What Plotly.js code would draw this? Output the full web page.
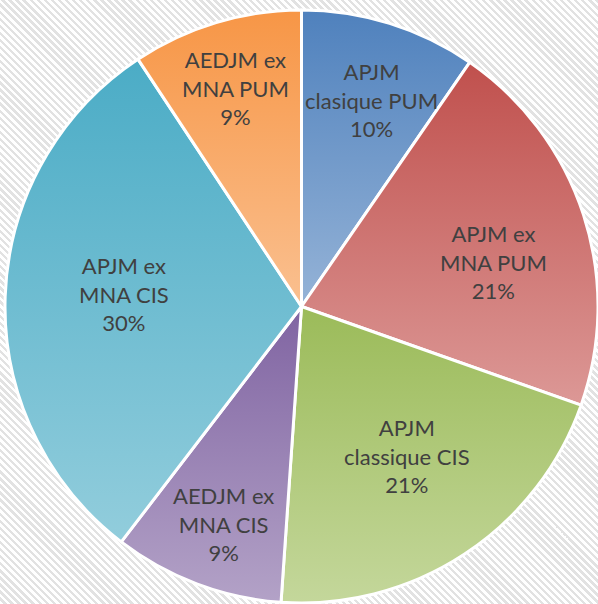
<!DOCTYPE html>
<html>
<head>
<meta charset="utf-8">
<script src="https://cdn.plot.ly/plotly-3.0.1.min.js"></script>
<style>
  html, body { margin: 0; padding: 0; }
  body {
    width: 598px; height: 604px; overflow: hidden;
    background: repeating-linear-gradient(45deg, #ffffff 0px, #ffffff 2.6px, #e2e2e2 2.6px, #e2e2e2 5px);
  }
  #chart { width: 598px; height: 604px; }
</style>
</head>
<body>
<div id="chart"></div>
<script>
// ---- data ----
var categories = ["APJM<br>clasique PUM", "APJM ex<br>MNA PUM", "APJM<br>classique CIS", "AEDJM ex<br>MNA CIS", "APJM ex<br>MNA CIS", "AEDJM ex<br>MNA PUM"];
var values = [9.6, 20.8, 20.7, 9.3, 30.3, 9.3];

// ---- styles ----
var midColors = ["#6f95c9", "#cf7573", "#b2cb7e", "#9e89b8", "#6fbdd1", "#f8ad6e"];
var topColors = ["#4f81bd", "#c0504d", "#9bbb59", "#8064a2", "#4bacc6", "#f79646"];
var botColors = ["#95b3d7", "#dc9896", "#c4d79b", "#b3a2c7", "#92cddc", "#fac090"];
var labelRadius = [0.737, 0.663, 0.618, 0.78, 0.60, 0.77];
var labelAngleShift = [1.5, 5, -1.8, -1, 2, 0];

var W = 598, H = 604;
var margin = {l: 5, r: 0, t: 9, b: 0};
var plotW = W - margin.l - margin.r, plotH = H - margin.t - margin.b;
var R = Math.min(plotW, plotH) / 2;

var total = values.reduce(function(a, b) { return a + b; }, 0);
var annotations = [];
var cum = 0;
values.forEach(function(v, i) {
  var mid = ((cum + v / 2) / total * 360 + labelAngleShift[i]) * Math.PI / 180;
  cum += v;
  var r = labelRadius[i] * R;
  var pct = Math.round(v / total * 100) + "%";
  annotations.push({
    xref: "paper", yref: "paper",
    x: 0.5 + r * Math.sin(mid) / plotW,
    y: 0.5 + r * Math.cos(mid) / plotH,
    text: categories[i] + "<br>" + pct,
    showarrow: false,
    xanchor: "center", yanchor: "middle",
    font: {family: "Lato, 'Open Sans', sans-serif", size: 22, color: "#404040"}
  });
});

var trace = {
  type: "pie",
  labels: categories,
  values: values,
  sort: false,
  direction: "clockwise",
  rotation: 0,
  textinfo: "none",
  hoverinfo: "label+percent",
  marker: {colors: midColors, line: {color: "#ffffff", width: 3}},
  showlegend: false
};

var layout = {
  width: W, height: H,
  margin: margin,
  paper_bgcolor: "rgba(0,0,0,0)",
  plot_bgcolor: "rgba(0,0,0,0)",
  showlegend: false,
  annotations: annotations
};

Plotly.newPlot("chart", [trace], layout, {displayModeBar: false, staticPlot: true}).then(function(gd) {
  var svg = gd.querySelector("svg.main-svg");
  var ns = "http://www.w3.org/2000/svg";
  var defs = document.createElementNS(ns, "defs");
  topColors.forEach(function(c, i) {
    var g = document.createElementNS(ns, "linearGradient");
    g.setAttribute("id", "sliceGrad" + i);
    g.setAttribute("x1", "0"); g.setAttribute("y1", "0");
    g.setAttribute("x2", "0"); g.setAttribute("y2", "1");
    var s1 = document.createElementNS(ns, "stop");
    s1.setAttribute("offset", "0"); s1.setAttribute("stop-color", c);
    var s2 = document.createElementNS(ns, "stop");
    s2.setAttribute("offset", "1"); s2.setAttribute("stop-color", botColors[i]);
    g.appendChild(s1); g.appendChild(s2);
    defs.appendChild(g);
  });
  svg.insertBefore(defs, svg.firstChild);
  var paths = gd.querySelectorAll("g.slice path.surface");
  paths.forEach(function(p, i) {
    p.style.fill = "url(#sliceGrad" + i + ")";
  });
});
</script>
</body>
</html>
